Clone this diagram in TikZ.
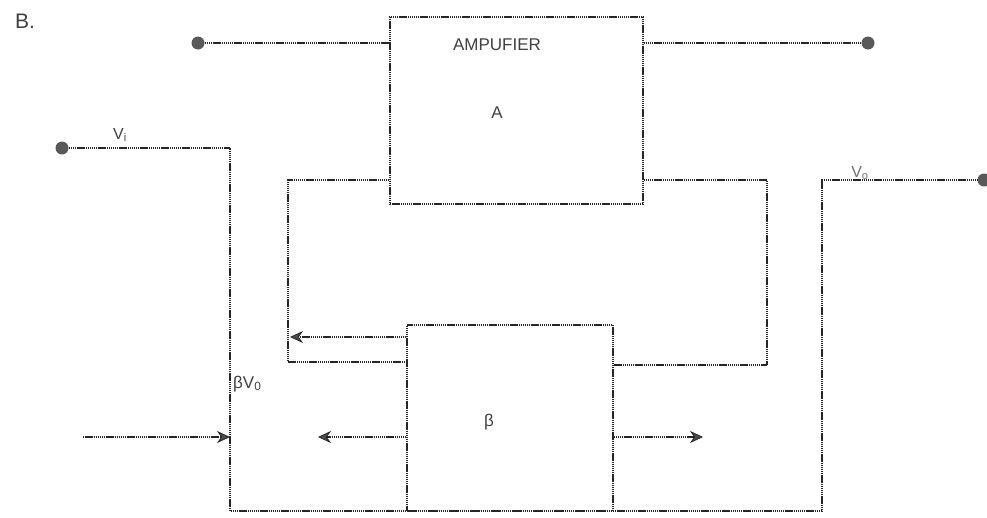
\documentclass[tikz,border=0pt]{standalone}
\usepackage{fontspec}
\setmainfont{Liberation Sans}
\usetikzlibrary{arrows.meta,calc}
\begin{document}
\begin{tikzpicture}[x=1pt,y=-1pt,
  wire/.style={black!85,line width=1.2pt,dash pattern=on 1.4pt off 0.7pt},
  arr/.style={wire,-{Stealth[length=13pt,width=12pt,fill=black!70,line width=0.8pt]}},
  blockbox/.style={draw=black!85,line width=1.2pt,dash pattern=on 1.4pt off 0.7pt,minimum width=253pt,minimum height=187pt,inner sep=0pt},
  term/.style={circle,fill=black!65,inner sep=0pt,minimum size=13pt},
  lbl/.style={text=black!75,inner sep=0pt}]
\useasboundingbox (0,0) rectangle (987,517);
% blocks
\node[blockbox] (amp) at (516.5,110.5) {};
\node[blockbox,minimum width=206pt,minimum height=186pt] (beta) at (510,418) {};
% terminals
\node[term] (tl) at (198,43) {};
\node[term] (tr) at (868,43) {};
\node[term] (vi) at (62,148) {};
\node[term] (vo) at (984,180) {};
% coordinates
\coordinate (c1) at (230,148);
\coordinate (c2) at (230,511);
\coordinate (c3) at (822,511);
\coordinate (c4) at (822,180);
\coordinate (l1) at (288,180);
\coordinate (l2) at (288,362);
\coordinate (r1) at (767,180);
\coordinate (r2) at (767,365);
\coordinate (a1) at (290,337);
\coordinate (a2) at (703,437);
\coordinate (a3) at (318,437);
\coordinate (a4s) at (83,437);
% wires
\draw[wire] (tl) -- (tl -| amp.west);
\draw[wire] (tr -| amp.east) -- (tr);
\draw[wire] (vi) -- (c1) -- (c2) -- (c3) -- (c4) -- (vo);
\draw[wire] (l1 -| amp.west) -- (l1) -- (l2) -- (l2 -| beta.west);
\draw[wire] (r1 -| amp.east) -- (r1) -- (r2) -- (r2 -| beta.east);
\draw[arr] (a1 -| beta.west) -- (a1);
\draw[arr] (a2 -| beta.east) -- (a2);
\draw[arr] (a3 -| beta.west) -- (a3);
\draw[arr] (a4s) -- (a4s -| c1);
% labels
\node[lbl,font=\fontsize{21}{21}\selectfont] (blab) at (25,21) {B.};
\node[lbl,font=\fontsize{17}{17}\selectfont] (amplab) at (497,45) {AMPUFIER};
\node[lbl,font=\fontsize{17}{17}\selectfont] (alab) at (497,113) {A};
\node[lbl,font=\fontsize{16}{16}\selectfont] (vilab) at (120,135) {V\textsubscript{i}};
\node[lbl,text=black!55,font=\fontsize{16}{16}\selectfont] (volab) at (860,173) {V\textsubscript{o}};
\node[lbl,font=\fontsize{17}{17}\selectfont,anchor=west] (bvlab) at (233,384) {βV\textsubscript{0}};
\node[lbl,font=\fontsize{17}{17}\selectfont] (betalab) at (489,422) {β};
\end{tikzpicture}
\end{document}
